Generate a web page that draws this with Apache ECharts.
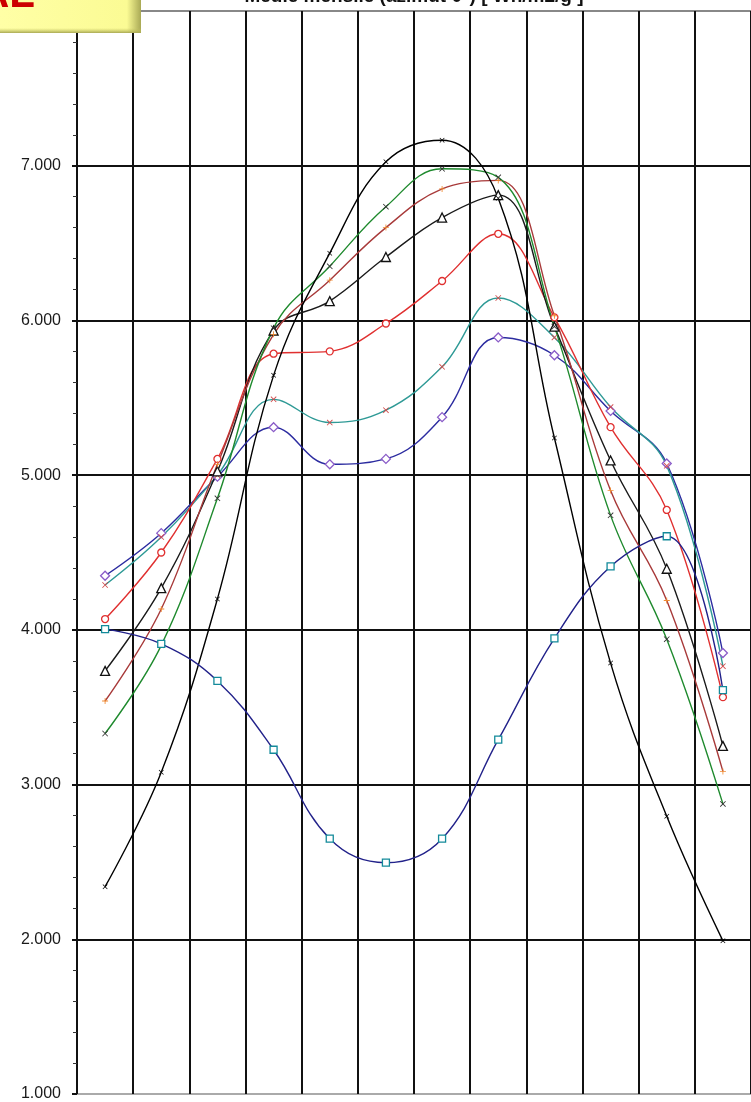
<!DOCTYPE html>
<html>
<head>
<meta charset="UTF-8">
<title>Medie mensile</title>
<script src="https://cdn.jsdelivr.net/npm/echarts@6/dist/echarts.min.js"></script>
<style>
  html, body { margin: 0; padding: 0; background: #fff; }
  #main { width: 751px; height: 1102px; }
</style>
</head>
<body>
<div id="main"></div>
<script type="text/javascript">
    // mesi e valori medi mensili [Wh/m2/g]
    var mesi = ['Gen', 'Feb', 'Mar', 'Apr', 'Mag', 'Giu', 'Lug', 'Ago', 'Set', 'Ott', 'Nov', 'Dic'];
    var yTicks = [1000, 2000, 3000, 4000, 5000, 6000, 7000, 8000];

    var serieRombi   = [4350, 4625, 4990, 5310, 5070, 5105, 5375, 5890, 5775, 5415, 5075, 3850];
    var serieTeal    = [4290, 4600, 5000, 5490, 5340, 5420, 5700, 6145, 5890, 5440, 5060, 3765];
    var serieCerchi  = [4070, 4500, 5105, 5785, 5800, 5980, 6255, 6560, 6020, 5310, 4775, 3565];
    var serieTriang  = [3735, 4270, 5025, 5935, 6125, 6410, 6665, 6810, 5960, 5095, 4395, 3250];
    var serieArancio = [3540, 4135, 5070, 5910, 6260, 6600, 6850, 6905, 6030, 4900, 4190, 3085];
    var serieVerde   = [3330, 3900, 4850, 5950, 6350, 6735, 6980, 6925, 5960, 4740, 3940, 2875];
    var serieNera    = [2340, 3080, 4200, 5645, 6435, 7025, 7165, 6790, 5240, 3785, 2795, 1990];
    var serieQuadri  = [4005, 3910, 3670, 3225, 2650, 2495, 2650, 3290, 3945, 4410, 4605, 3610];

    var crossPath = 'path://M0,1 L1,0 L10,9 L9,10 Z M9,0 L10,1 L1,10 L0,9 Z';
    var plusPath = 'path://M4.3,0 L5.7,0 L5.7,4.3 L10,4.3 L10,5.7 L5.7,5.7 L5.7,10 L4.3,10 L4.3,5.7 L0,5.7 L0,4.3 L4.3,4.3 Z';

    function linea(nome, dati, colore, simbolo, size, colMarker, vuoto) {
        return {
            name: nome,
            type: 'line',
            data: dati,
            smooth: 0.4,
            symbol: simbolo,
            symbolSize: size,
            showAllSymbol: true,
            lineStyle: { color: colore, width: 1.4 },
            itemStyle: vuoto
                ? { color: '#fff', borderColor: colMarker, borderWidth: 1.3 }
                : { color: colMarker, borderWidth: 0 },
            emphasis: { disabled: true },
            z: 3
        };
    }

    var myChart = echarts.init(document.getElementById('main'));

    var option = {
        animation: false,
        backgroundColor: '#fff',
        grid: { left: 77, top: 11, width: 680, height: 1090 },
        xAxis: {
            type: 'category',
            data: mesi,
            boundaryGap: true,
            axisLine: { show: true, lineStyle: { color: '#aaa', width: 1 } },
            axisTick: { show: false },
            axisLabel: { show: false },
            splitLine: { show: true, interval: 0, lineStyle: { color: '#111', width: 2 } }
        },
        yAxis: {
            type: 'value',
            min: yTicks[0],
            max: yTicks[yTicks.length - 1],
            interval: 1000,
            axisLine: { show: true, lineStyle: { color: '#111', width: 2 } },
            axisTick: { show: true, inside: false, length: 5, lineStyle: { color: '#111', width: 2 } },
            minorTick: { show: true, splitNumber: 5, length: 4, lineStyle: { color: '#333', width: 1 } },
            axisLabel: {
                margin: 16,
                color: '#1a1a1a',
                fontSize: 16,
                fontFamily: 'Liberation Sans, Arial, sans-serif',
                showMaxLabel: false,
                formatter: function (v) { return (v / 1000).toFixed(3); }
            },
            splitLine: {
                show: true,
                lineStyle: {
                    color: ['#aaa', '#111', '#111', '#111', '#111', '#111', '#111', '#888'],
                    width: 2
                }
            }
        },
        graphic: [
            {
                type: 'text',
                x: 414,
                y: 6,
                z: 10,
                style: {
                    text: 'Medie mensile (azimut 0°) [ Wh/m2/g ]',
                    fill: '#111',
                    font: 'bold 19px Liberation Sans, Arial, sans-serif',
                    textAlign: 'center',
                    textVerticalAlign: 'bottom'
                }
            },
            {
                type: 'rect',
                z: 20,
                shape: { x: 0, y: 0, width: 141, height: 33 },
                style: {
                    fill: {
                        type: 'linear', x: 0, y: 0, x2: 1, y2: 0,
                        colorStops: [
                            { offset: 0, color: '#ffffa6' },
                            { offset: 0.9, color: '#fbfb94' },
                            { offset: 1, color: '#a9a955' }
                        ]
                    }
                }
            },
            {
                type: 'rect',
                z: 21,
                shape: { x: 0, y: 28, width: 141, height: 5 },
                style: {
                    fill: {
                        type: 'linear', x: 0, y: 0, x2: 0, y2: 1,
                        colorStops: [
                            { offset: 0, color: 'rgba(200,200,100,0)' },
                            { offset: 1, color: '#a9a955' }
                        ]
                    }
                }
            },
            {
                type: 'text',
                x: -21,
                y: 16,
                z: 22,
                style: {
                    text: 'AL',
                    fill: '#cc0000',
                    font: 'bold 42px Liberation Sans, Arial, sans-serif',
                    textVerticalAlign: 'bottom',
                    shadowColor: 'rgba(90,60,0,0.6)',
                    shadowBlur: 3,
                    shadowOffsetX: 2,
                    shadowOffsetY: 2
                }
            }
        ],
        series: [
            linea('Serie 1', serieRombi, '#2c2ca0', 'diamond', 9, '#8a5cc8', true),
            linea('Serie 2', serieTeal, '#2f9a96', crossPath, 6, '#d24a4a', false),
            linea('Serie 3', serieCerchi, '#e03030', 'circle', 7, '#e03030', true),
            linea('Serie 4', serieTriang, '#1a1a1a', 'triangle', 9, '#111', true),
            linea('Serie 5', serieArancio, '#a83a3a', plusPath, 6, '#f08a30', false),
            linea('Serie 6', serieVerde, '#1f8a2e', crossPath, 6, '#333', false),
            linea('Serie 7', serieNera, '#000', crossPath, 5, '#000', false),
            linea('Serie 8', serieQuadri, '#22228a', 'rect', 7, '#138a9a', true)
        ]
    };

    myChart.setOption(option);
</script>
</body>
</html>
